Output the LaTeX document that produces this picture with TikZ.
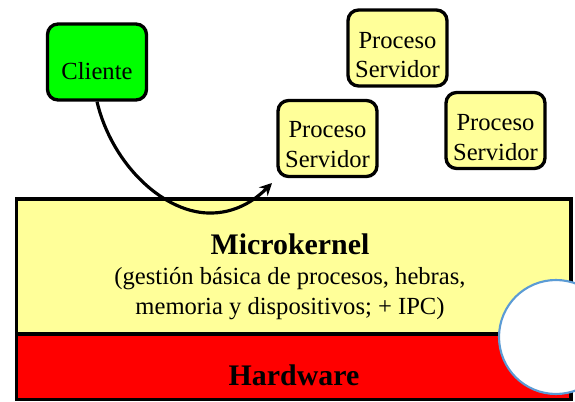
\documentclass[tikz,border=0pt]{standalone}
\usepackage{fontspec}
\setmainfont{Liberation Serif}
\usetikzlibrary{arrows.meta}

\definecolor{clientgreen}{RGB}{0,255,0}
\definecolor{procyellow}{RGB}{255,255,153}
\definecolor{hwred}{RGB}{255,0,0}
\definecolor{circblue}{RGB}{91,155,213}

\tikzset{
  procbox/.style={draw, line width=1.9pt, rounded corners=6pt, fill=procyellow,
    minimum width=1.98cm, minimum height=1.52cm, inner sep=1pt},
  proctext/.style={align=center, inner sep=0pt, font=\fontsize{14}{17}\selectfont},
  layer/.style={draw, line width=1.9pt, minimum width=11.09cm, inner sep=0pt}
}

\begin{document}
\begin{tikzpicture}[x=0.02cm, y=-0.02cm]
    \clip (0,0) rectangle (575,402);
    \fill[white] (0,0) rectangle (575,402);

    % layers
    \node[layer, fill=procyellow, minimum height=2.7cm] (Kernel) at (293.75,266.5) {};
    \node[layer, fill=hwred, minimum height=1.31cm] (Hardware) at (293.75,366.75) {};
    \node[align=center, font=\fontsize{14}{17}\selectfont] (KernelText) at (290,277)
        {{\fontsize{17}{17}\selectfont\bfseries Microkernel}\\(gestión básica de procesos, hebras,\\memoria y dispositivos; + IPC)};
    \node[font=\fontsize{17}{17}\selectfont\bfseries] (HardwareText) at (294,375) {Hardware};

    % processes
    \node[procbox, fill=clientgreen] (Cliente) at (97,62) {};
    \node[procbox] (ServTop) at (397.5,48) {};
    \node[procbox] (ServLeft) at (327.5,138.5) {};
    \node[procbox] (ServRight) at (495.5,130.5) {};
    \node[proctext] (ClienteText) at ([yshift=-5pt]Cliente) {Cliente};
    \node[proctext] (ServTopText) at ([yshift=-4pt]ServTop) {Proceso\\Servidor};
    \node[proctext] (ServLeftText) at ([yshift=-3.5pt]ServLeft) {Proceso\\Servidor};
    \node[proctext] (ServRightText) at ([yshift=-4pt]ServRight) {Proceso\\Servidor};

    % message through the kernel
    \coordinate (Tip) at (272,183);
    \draw[line width=1.8pt, -{Stealth[length=7pt,width=7pt]}] (Cliente.south)
        .. controls (112,165) and (165,215) .. (213,213)
        .. controls (240,212) and (258,197) .. (Tip);

    \node[circle, draw=circblue, line width=1.2pt, fill=white, minimum size=2.28cm] (Mark) at (556,337) {};
\end{tikzpicture}
\end{document}
